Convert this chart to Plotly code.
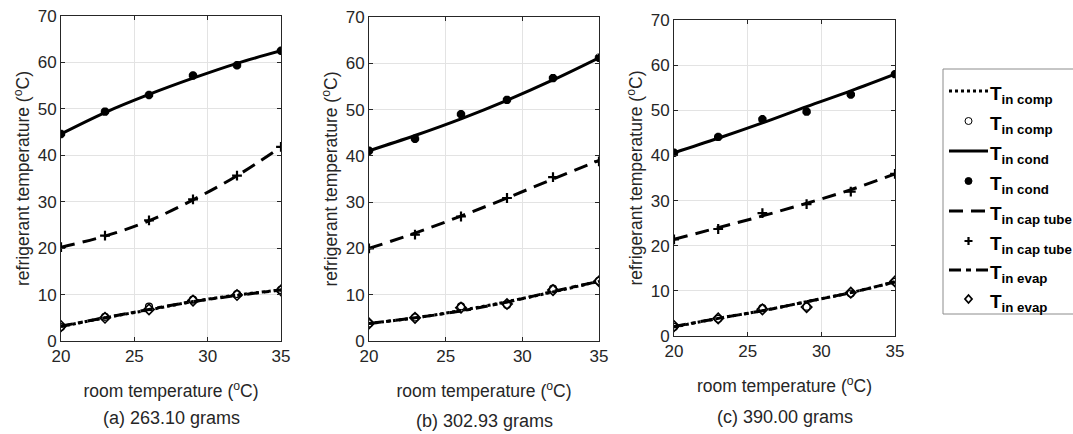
import plotly.graph_objects as go

x_room = [20, 23, 26, 29, 32, 35]

# (a) 263.10 grams
comp_exp_a = [3.0, 5.2, 7.4, 8.9, 10.1, 11.0]
comp_sim_a = [3.1, 5.0, 6.7, 8.5, 9.9, 11.0]
cond_exp_a = [44.6, 49.4, 53.0, 57.2, 59.4, 62.5]
cond_sim_a = [44.6, 49.2, 53.1, 56.6, 59.8, 62.5]
cap_exp_a = [20.2, 22.7, 26.0, 30.5, 35.6, 41.8]
cap_sim_a = [20.2, 22.6, 25.9, 30.4, 35.6, 41.8]
evap_exp_a = [3.2, 5.0, 6.8, 8.7, 9.9, 10.9]
evap_sim_a = [3.2, 5.0, 6.8, 8.5, 9.8, 11.0]

# (b) 302.93 grams
comp_exp_b = [3.8, 5.1, 7.5, 7.8, 11.3, 13.0]
comp_sim_b = [3.8, 5.0, 6.6, 8.5, 10.6, 12.9]
cond_exp_b = [41.1, 43.7, 49.0, 52.1, 56.8, 61.2]
cond_sim_b = [41.1, 44.4, 48.0, 52.0, 56.4, 61.2]
cap_exp_b = [20.0, 23.0, 26.9, 30.9, 35.4, 38.8]
cap_sim_b = [20.0, 23.3, 27.0, 30.9, 35.0, 39.0]
evap_exp_b = [3.8, 5.0, 7.2, 8.0, 11.0, 12.9]
evap_sim_b = [3.8, 5.0, 6.5, 8.4, 10.7, 12.9]

# (c) 390.00 grams
comp_exp_c = [2.0, 3.8, 6.2, 6.5, 9.4, 12.0]
comp_sim_c = [2.0, 3.9, 5.6, 7.6, 9.6, 12.0]
cond_exp_c = [40.6, 44.1, 48.0, 49.7, 53.5, 58.0]
cond_sim_c = [40.6, 43.8, 47.2, 50.8, 54.3, 58.0]
cap_exp_c = [21.4, 23.7, 27.2, 29.2, 32.0, 35.9]
cap_sim_c = [21.4, 24.0, 26.6, 29.4, 32.4, 35.9]
evap_exp_c = [2.2, 3.9, 5.9, 6.4, 9.6, 12.1]
evap_sim_c = [2.1, 3.9, 5.6, 7.6, 9.6, 12.0]

captions = ["(a) 263.10 grams", "(b) 302.93 grams", "(c) 390.00 grams"]
x_ticks = [20, 25, 30, 35]
y_ticks = [0, 10, 20, 30, 40, 50, 60, 70]
names = ["T<sub>in comp</sub>", "T<sub>in cond</sub>",
         "T<sub>in cap tube</sub>", "T<sub>in evap</sub>"]

W, H = 1073, 434
panels = [
    dict(px=(61, 281), py=(16, 341), cap_y=418,
         data=(comp_sim_a, comp_exp_a, cond_sim_a, cond_exp_a, cap_sim_a, cap_exp_a, evap_sim_a, evap_exp_a)),
    dict(px=(369, 599), py=(17, 341), cap_y=421,
         data=(comp_sim_b, comp_exp_b, cond_sim_b, cond_exp_b, cap_sim_b, cap_exp_b, evap_sim_b, evap_exp_b)),
    dict(px=(674, 895), py=(20, 336), cap_y=417,
         data=(comp_sim_c, comp_exp_c, cond_sim_c, cond_exp_c, cap_sim_c, cap_exp_c, evap_sim_c, evap_exp_c)),
]

line_styles = ["dot", "solid", "14px,8px", "12px,5px,5px,5px"]
marker_styles = [
    dict(symbol="circle-open", size=7, color="black", line=dict(width=1.2, color="black")),
    dict(symbol="asterisk-open", size=7, color="black", line=dict(width=3, color="black")),
    dict(symbol="cross-thin-open", size=7, color="black", line=dict(width=2.2, color="black")),
    dict(symbol="diamond-open", size=8, color="black", line=dict(width=1.6, color="black")),
]

fig = go.Figure()
TXT = "#262626"
FONT = "Arial, Liberation Sans, sans-serif"

for i, p in enumerate(panels):
    suffix = "" if i == 0 else str(i + 1)
    xa, ya = "x" + suffix, "y" + suffix
    d = p["data"]
    for k in range(4):
        sim, exp = d[2 * k], d[2 * k + 1]
        fig.add_trace(go.Scatter(
            x=x_room, y=sim, mode="lines", xaxis=xa, yaxis=ya,
            line=dict(color="black", width=3, dash=line_styles[k], shape="spline"),
            name=names[k] + " model", showlegend=False))
        fig.add_trace(go.Scatter(
            x=x_room, y=exp, mode="markers", xaxis=xa, yaxis=ya,
            marker=marker_styles[k], name=names[k] + " exp", showlegend=False))

    dx = [p["px"][0] / W, p["px"][1] / W]
    dy = [1 - p["py"][1] / H, 1 - p["py"][0] / H]
    axis_common = dict(showline=True, linecolor=TXT, linewidth=1, mirror="allticks",
                       ticks="inside", ticklen=4, tickcolor=TXT,
                       showgrid=True, gridcolor="#e3e3e3", gridwidth=1, zeroline=False,
                       tickfont=dict(size=17, color=TXT, family=FONT), automargin=False)
    fig.layout["xaxis" + suffix] = dict(
        domain=dx, range=[20, 35], tickvals=x_ticks, anchor=ya,
        title=dict(text="room temperature (<sup>o</sup>C)", font=dict(size=17.5, color=TXT, family=FONT), standoff=19),
        **axis_common)
    fig.layout["yaxis" + suffix] = dict(
        domain=dy, range=[0, 70], tickvals=y_ticks, anchor=xa,
        title=dict(text="refrigerant temperature (<sup>o</sup>C)", font=dict(size=17.5, color=TXT, family=FONT), standoff=3),
        **axis_common)
    fig.add_annotation(x=(dx[0] + dx[1]) / 2, y=1 - p["cap_y"] / H, xref="paper", yref="paper",
                       text=captions[i], showarrow=False, xanchor="center", yanchor="middle",
                       font=dict(size=18, color=TXT, family=FONT))

# ---- legend (drawn manually so that it runs off the right edge like the reference)
leg_left, leg_top, leg_bottom = 943, 69, 314
row_y = [91, 121, 151, 181, 211, 241, 270, 299]
sample_x0, sample_x1, text_x = 949, 988, 988
fig.add_shape(type="rect", xref="paper", yref="paper",
              x0=leg_left / W, x1=1.02, y0=1 - leg_bottom / H, y1=1 - leg_top / H,
              line=dict(color="#8c8c8c", width=1), fillcolor="white", layer="below")

marker_paths = [
    None,
    None,
    "M-4,0H4M0,-4V4",
    "M0,-4L3.5,0L0,4L-3.5,0Z",
]
for k in range(4):
    yl = 1 - row_y[2 * k] / H
    ym = 1 - row_y[2 * k + 1] / H
    fig.add_shape(type="line", xref="paper", yref="paper",
                  x0=sample_x0 / W, x1=sample_x1 / W, y0=yl, y1=yl,
                  line=dict(color="black", width=3, dash=line_styles[k]))
    xc = ((sample_x0 + sample_x1) / 2) / W
    if k in (0, 1):
        fig.add_shape(type="circle", xref="paper", yref="paper",
                      xsizemode="pixel", ysizemode="pixel", xanchor=xc, yanchor=ym,
                      x0=-3.5, x1=3.5, y0=-3.5, y1=3.5,
                      line=dict(color="black", width=1),
                      fillcolor="white" if k == 0 else "black")
    else:
        fig.add_shape(type="path", xref="paper", yref="paper",
                      xsizemode="pixel", ysizemode="pixel", xanchor=xc, yanchor=ym,
                      path=marker_paths[k],
                      line=dict(color="black", width=2.2 if k == 2 else 1.8))
    for yy in (row_y[2 * k], row_y[2 * k + 1]):
        fig.add_annotation(x=text_x / W, y=1 - (yy - 10) / H, xref="paper", yref="paper",
                           text="<b>" + names[k] + "</b>", showarrow=False,
                           xanchor="left", yanchor="top", align="left",
                           font=dict(size=19, color="black", family=FONT))

fig.update_layout(
    width=W, height=H, margin=dict(l=0, r=0, t=0, b=0),
    paper_bgcolor="white", plot_bgcolor="white",
    font=dict(family=FONT, color="black"),
    showlegend=False,
)

fig.write_html("out.html")
